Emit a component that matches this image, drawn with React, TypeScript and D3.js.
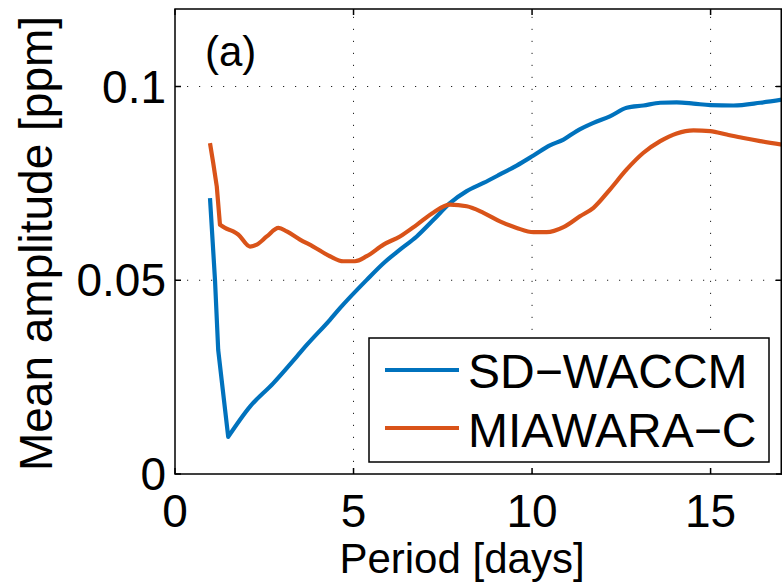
import React from "react";
import * as d3 from "d3";

const periodBlue = [0.98, 1.12, 1.21, 1.49, 2.1, 2.75, 3.41, 3.69, 4.34, 4.62, 5.37, 5.84, 6.3, 6.77, 7.24, 7.7, 8.17, 8.64, 9.1, 9.57, 10.04, 10.5, 10.88, 11.25, 11.72, 12.18, 12.65, 13.12, 13.59, 14.05, 14.52, 14.99, 15.64, 16.39, 17.0];
const sdWaccm = [0.0712, 0.0501, 0.032, 0.0096, 0.0174, 0.0234, 0.0303, 0.0333, 0.0398, 0.0428, 0.0501, 0.0544, 0.0579, 0.0613, 0.0656, 0.0699, 0.073, 0.0751, 0.0773, 0.0796, 0.0822, 0.0848, 0.0863, 0.0885, 0.0906, 0.0923, 0.0945, 0.0951, 0.0958, 0.0959, 0.0956, 0.0952, 0.0951, 0.0958, 0.0966];

const periodOrange = [0.98, 1.07, 1.17, 1.26, 1.4, 1.63, 1.77, 2.1, 2.29, 2.57, 2.9, 3.13, 3.5, 3.87, 4.34, 4.71, 5.04, 5.37, 5.84, 6.3, 6.77, 7.24, 7.7, 8.17, 8.64, 9.1, 9.57, 10.04, 10.41, 10.88, 11.34, 11.72, 12.18, 12.65, 13.12, 13.59, 14.05, 14.52, 14.99, 15.45, 15.92, 16.39, 17.0];
const miawaraC = [0.0854, 0.0803, 0.0742, 0.0643, 0.0635, 0.0626, 0.0618, 0.0587, 0.0592, 0.0613, 0.0635, 0.0626, 0.0605, 0.0587, 0.0562, 0.0549, 0.0549, 0.0562, 0.0592, 0.0613, 0.0643, 0.0675, 0.0695, 0.0691, 0.0674, 0.0652, 0.0635, 0.0624, 0.0624, 0.0637, 0.0665, 0.0687, 0.0734, 0.0786, 0.0829, 0.0859, 0.0879, 0.0887, 0.0885, 0.0876, 0.0867, 0.0859, 0.085];

const xTicks = [0, 5, 10, 15];
const yTicks = [0, 0.05, 0.1];
const yTickLabels = ["0", "0.05", "0.1"];
const seriesNames = ["SD\u2212WACCM", "MIAWARA\u2212C"];
const seriesColors = ["#0072BD", "#D95319"];

const FONT = "'Liberation Sans', Arial, sans-serif";

export default function App() {
  const W = 782;
  const H = 585;
  const left = 175, right = 782, top = 9, bottom = 474;
  const x = d3.scaleLinear().domain([0, 17]).range([left, right]);
  const y = d3.scaleLinear().domain([0, 0.12]).range([bottom, top]);

  const lineLin = d3
    .line<[number, number]>()
    .x((d) => x(d[0]))
    .y((d) => y(d[1]))
    .curve(d3.curveLinear);
  const lineSmooth = d3
    .line<[number, number]>()
    .x((d) => x(d[0]))
    .y((d) => y(d[1]))
    .curve(d3.curveMonotoneX);

  const blue = periodBlue.map((p, i) => [p, sdWaccm[i]] as [number, number]);
  const orange = periodOrange.map((p, i) => [p, miawaraC[i]] as [number, number]);
  // sharp minimum: straight drop, then smooth rise
  const blueD = (lineLin(blue.slice(0, 4)) || "") + (lineSmooth(blue.slice(3)) || "").replace(/^M/, "L");
  const orangeD = (lineLin(orange.slice(0, 4)) || "") + (lineSmooth(orange.slice(3)) || "").replace(/^M/, "L");

  const tickLen = 6;
  const legX = 369, legY = 338, legW = 400, legH = 124;

  return (
    <svg width={W} height={H} style={{ position: "absolute", left: 0, top: 0, background: "#fff" }} fontFamily={FONT}>
      <rect x={0} y={0} width={W} height={H} fill="#fff" />
      <defs>
        <clipPath id="plotclip">
          <rect x={left} y={top} width={right - left} height={bottom - top} />
        </clipPath>
      </defs>
      {/* grid */}
      {xTicks.filter((t) => t > 0).map((t) => (
        <line key={"gx" + t} x1={x(t)} x2={x(t)} y1={bottom} y2={top} stroke="#222" strokeWidth={1} strokeDasharray="1.2,10.8" />
      ))}
      {yTicks.filter((t) => t > 0).map((t) => (
        <line key={"gy" + t} x1={left} x2={right} y1={y(t)} y2={y(t)} stroke="#222" strokeWidth={1} strokeDasharray="1.2,10.8" />
      ))}
      {/* lines */}
      <g clipPath="url(#plotclip)">
        <path d={blueD} fill="none" stroke={seriesColors[0]} strokeWidth={4.2} strokeLinejoin="round" />
        <path d={orangeD} fill="none" stroke={seriesColors[1]} strokeWidth={4.2} strokeLinejoin="round" />
      </g>
      {/* ticks */}
      {xTicks.map((t) => (
        <g key={"tx" + t}>
          <line x1={x(t)} x2={x(t)} y1={bottom} y2={bottom - tickLen} stroke="#000" strokeWidth={1.5} />
          <line x1={x(t)} x2={x(t)} y1={top} y2={top + tickLen} stroke="#000" strokeWidth={1.5} />
          <text x={x(t)} y={527} textAnchor="middle" fontSize={46} fill="#000">{t}</text>
        </g>
      ))}
      {yTicks.map((t, i) => (
        <g key={"ty" + t}>
          <line x1={left} x2={left + tickLen} y1={y(t)} y2={y(t)} stroke="#000" strokeWidth={1.5} />
          <line x1={right} x2={right - tickLen} y1={y(t)} y2={y(t)} stroke="#000" strokeWidth={1.5} />
          <text x={166} y={y(t) + 16} textAnchor="end" fontSize={46} fill="#000">{yTickLabels[i]}</text>
        </g>
      ))}
      {/* box */}
      <rect x={left} y={top} width={right - left - 0.75} height={bottom - top} fill="none" stroke="#000" strokeWidth={1.5} />
      {/* panel label */}
      <text x={205} y={66} fontSize={42} fill="#000">(a)</text>
      {/* axis labels */}
      <text x={462} y={573} textAnchor="middle" fontSize={42} fill="#000">Period [days]</text>
      <text transform={`translate(52,${(top + bottom) / 2 + 2}) rotate(-90)`} textAnchor="middle" fontSize={46} fill="#000">Mean amplitude [ppm]</text>
      {/* legend */}
      <rect x={legX} y={legY} width={legW} height={legH} fill="#fff" stroke="#000" strokeWidth={1.5} />
      {seriesNames.map((n, i) => (
        <g key={n}>
          <line x1={385} x2={459} y1={370 + i * 58} y2={370 + i * 58} stroke={seriesColors[i]} strokeWidth={4.2} />
          <text x={468} y={388 + i * 59} fontSize={48} fill="#000">{n}</text>
        </g>
      ))}
    </svg>
  );
}
